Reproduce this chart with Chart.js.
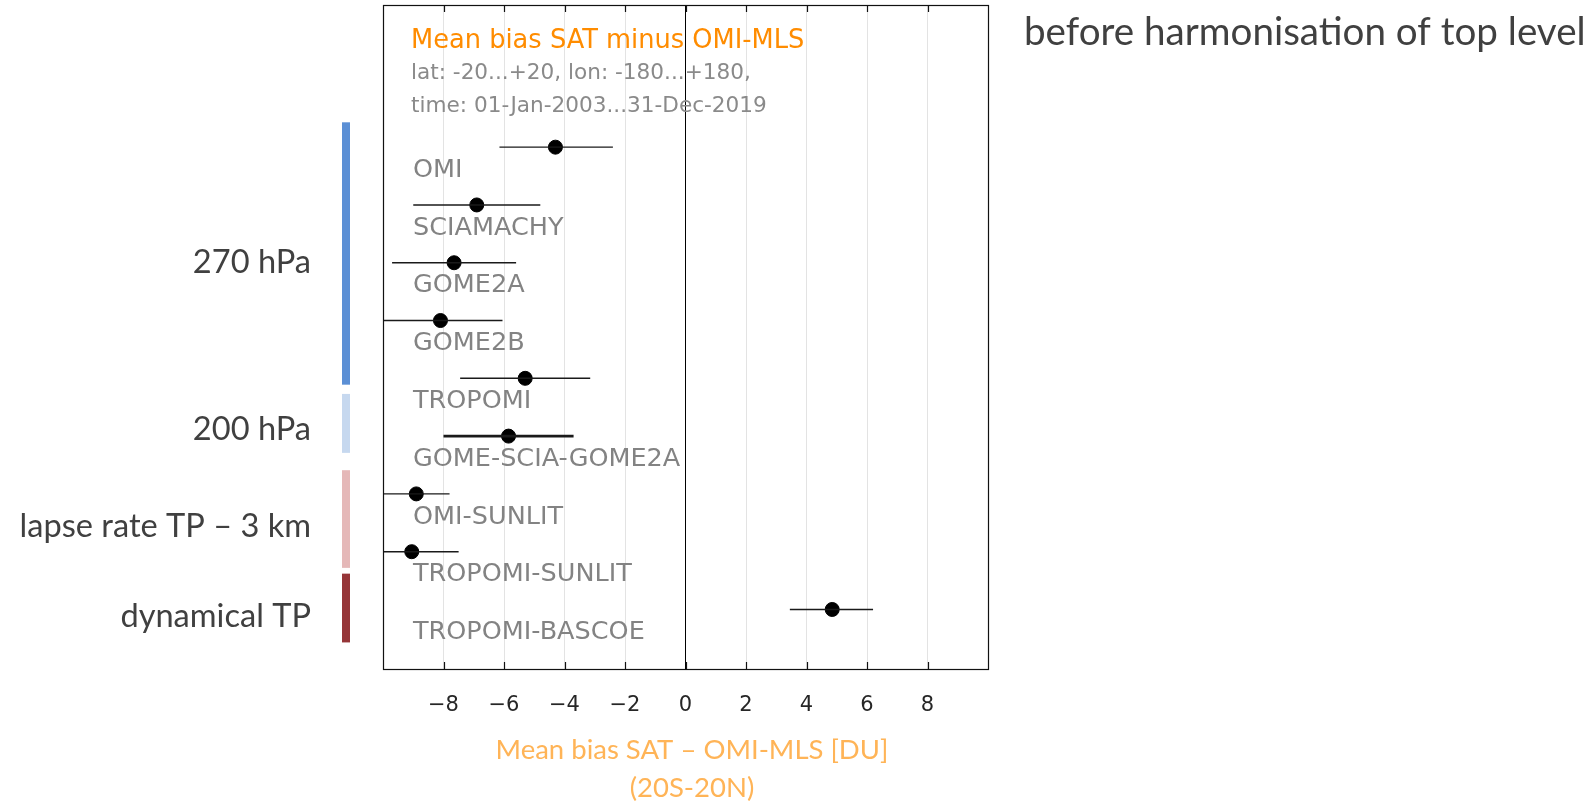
<!DOCTYPE html>
<html>
<head>
<meta charset="utf-8">
<title>Mean bias SAT minus OMI-MLS</title>
<script src="https://cdn.jsdelivr.net/npm/chart.js@4.4.1/dist/chart.umd.min.js"></script>
<style>
    html, body { margin: 0; padding: 0; background: #fff; }
    canvas { display: block; }
</style>
</head>
<body>
<canvas id="biasChart" width="1595" height="803"></canvas>
<script>
        // data (DU)
        const products = ['OMI', 'SCIAMACHY', 'GOME2A', 'GOME2B', 'TROPOMI', 'GOME-SCIA-GOME2A', 'OMI-SUNLIT', 'TROPOMI-SUNLIT', 'TROPOMI-BASCOE'];
        const meanBias = [-4.3, -6.9, -7.65, -8.1, -5.3, -5.85, -8.9, -9.05, 4.85];
        const biasLow = [-6.15, -9.0, -9.7, -10.2, -7.45, -8.0, -10.0, -10.6, 3.45];
        const biasHigh = [-2.4, -4.8, -5.6, -6.05, -3.15, -3.7, -7.8, -7.5, 6.2];
        const xTicks = [-8, -6, -4, -2, 0, 2, 4, 6, 8];
        const groupLabels = ['270 hPa', '200 hPa', 'lapse rate TP \u2013 3 km', 'dynamical TP'];
        const groupColors = ['#5b8fd5', '#c6d8ef', '#e5b8b8', '#963538'];

        // layout only (axis units of the row scale)
        const groupSpans = [[-0.43, 4.11], [4.27, 5.29], [5.59, 7.28], [7.38, 8.57]];
        const groupLabelRows = [1.99, 4.88, 6.56, 8.12];
        const thickBars = ['GOME-SCIA-GOME2A'];

        const errorBarSets = products.map((name, i) => ({
            type: 'scatter',
            label: name + ' range',
            data: [{ x: biasLow[i], y: i }, { x: biasHigh[i], y: i }],
            showLine: true,
            borderColor: '#1a1a1a',
            borderWidth: thickBars.includes(name) ? 2.6 : 1.4,
            pointRadius: 0,
            clip: 0
        }));

        const pointSet = {
            type: 'scatter',
            label: 'mean bias',
            data: meanBias.map((v, i) => ({ x: v, y: i })),
            backgroundColor: '#000',
            borderColor: '#000',
            pointRadius: 7,
            clip: 0
        };

        const decor = {
            id: 'decor',
            afterDraw(chart) {
                const { ctx, chartArea: a, scales: { x, y } } = chart;
                ctx.save();

                // frame and inner tick marks
                ctx.strokeStyle = '#111';
                ctx.lineWidth = 1.2;
                ctx.strokeRect(a.left + 0.5, a.top + 0.5, a.right - a.left, a.bottom - a.top);
                ctx.beginPath();
                xTicks.forEach(v => {
                    const px = Math.round(x.getPixelForValue(v)) + 0.5;
                    ctx.moveTo(px, a.bottom); ctx.lineTo(px, a.bottom - 7);
                    ctx.moveTo(px, a.top); ctx.lineTo(px, a.top + 7);
                });
                ctx.stroke();

                // product names under each point
                ctx.fillStyle = '#838383';
                ctx.font = '25.5px "DejaVu Sans"';
                ctx.textAlign = 'left';
                ctx.textBaseline = 'middle';
                products.forEach((name, i) => {
                    ctx.fillText(name, a.left + 30, y.getPixelForValue(i) + 23);
                });

                // title block inside the plot
                ctx.fillStyle = '#ff8c00';
                ctx.font = '25.7px "DejaVu Sans"';
                ctx.fillText('Mean bias SAT minus OMI-MLS', a.left + 28, 41);
                ctx.fillStyle = '#8a8a8a';
                ctx.font = '21.6px "DejaVu Sans"';
                ctx.fillText('lat: -20...+20, lon: -180...+180,', a.left + 28, 73);
                ctx.fillText('time: 01-Jan-2003...31-Dec-2019', a.left + 28, 106);

                // group bars and labels on the left
                groupLabels.forEach((label, i) => {
                    const y0 = y.getPixelForValue(groupSpans[i][0]);
                    const y1 = y.getPixelForValue(groupSpans[i][1]);
                    ctx.fillStyle = groupColors[i];
                    ctx.fillRect(342, y0, 8, y1 - y0);
                    ctx.fillStyle = '#404040';
                    ctx.font = '32.6px Lato';
                    ctx.textAlign = 'right';
                    ctx.fillText(label, 311, y.getPixelForValue(groupLabelRows[i]));
                });

                // axis title
                ctx.textAlign = 'center';
                ctx.fillStyle = '#ffb457';
                ctx.font = '27.5px Lato';
                ctx.fillText('Mean bias SAT \u2013 OMI-MLS [DU]', 692, 750);
                ctx.fillText('(20S-20N)', 692, 788);

                // note at top right
                ctx.textAlign = 'left';
                ctx.fillStyle = '#404040';
                ctx.font = '38.6px Lato';
                ctx.fillText('before harmonisation of top level', 1024, 33);

                ctx.restore();
            }
        };

        new Chart(document.getElementById('biasChart'), {
            type: 'scatter',
            data: { datasets: [...errorBarSets, pointSet] },
            options: {
                responsive: false,
                animation: false,
                layout: { autoPadding: false, padding: { left: 383, right: 607, top: 5, bottom: 0 } },
                plugins: { legend: { display: false }, tooltip: { enabled: false } },
                scales: {
                    x: {
                        type: 'linear',
                        min: -10,
                        max: 10,
                        afterBuildTicks: s => { s.ticks = xTicks.map(v => ({ value: v })); },
                        afterFit: s => { s.height = 134; },
                        ticks: {
                            font: { family: 'DejaVu Sans', size: 21 },
                            color: '#262626',
                            padding: 24,
                            callback: v => String(v).replace('-', '\u2212')
                        },
                        grid: {
                            drawTicks: false,
                            color: c => (c.tick && c.tick.value === 0) ? '#000' : '#e3e3e3',
                            lineWidth: 1
                        },
                        border: { display: false }
                    },
                    y: { type: 'linear', min: -2.46, max: 9.03, reverse: true, display: false }
                }
            },
            plugins: [decor]
        });
</script>
</body>
</html>
